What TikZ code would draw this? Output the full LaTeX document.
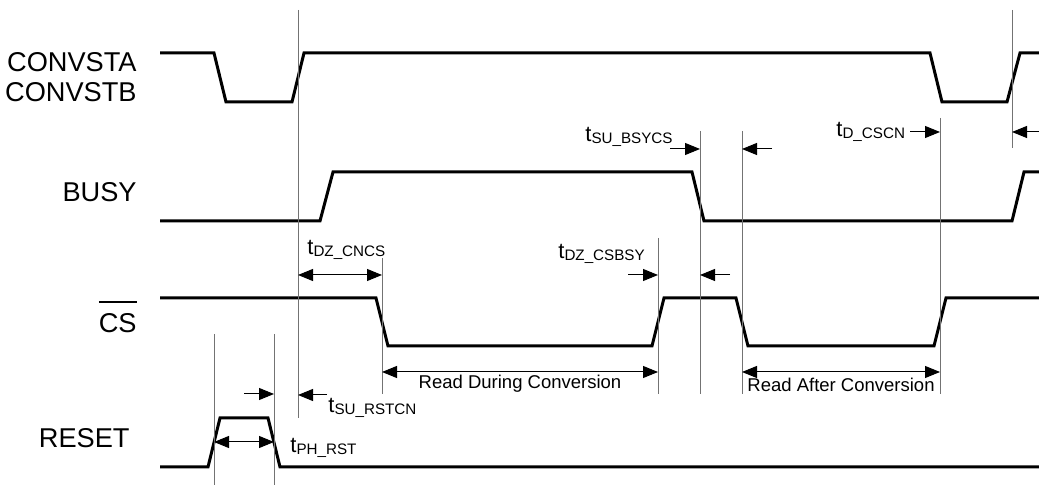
\documentclass[tikz,border=0pt]{standalone}
\usepackage{fontspec}
\setmainfont{Liberation Sans}
\usetikzlibrary{arrows.meta, positioning}

\newcommand{\tparam}[1]{t\raisebox{-1pt}{\fontsize{7.6}{8}\selectfont #1}}
\newcommand{\barred}[1]{\vbox{\hrule height 0.8pt \kern 5.5pt \hbox{#1}}}

\begin{document}
\begin{tikzpicture}[x=0.5pt, y=-0.5pt]
% Define styles
\tikzstyle{signal} = [line width=1.5pt, line join=miter]
\tikzstyle{guide} = [black!55, line width=0.5pt]
\tikzstyle{arrow} = [line width=0.5pt, -{Triangle[length=7.5pt, width=6pt]}]
\tikzstyle{span} = [line width=0.5pt, {Triangle[length=7.5pt, width=6pt]}-{Triangle[length=7.5pt, width=6pt]}]
\tikzstyle{signame} = [anchor=base east, inner sep=0pt, font=\fontsize{13.6}{16}\selectfont]
\tikzstyle{param} = [anchor=base west, inner sep=0pt, font=\fontsize{11}{13}\selectfont]
\tikzstyle{note} = [anchor=base, inner sep=0pt, font=\fontsize{9.25}{11}\selectfont]

\useasboundingbox (0,0) rectangle (1039,485);

% Signal names
\node (convsta) [signame] at (137,72) {CONVSTA};
\node (convstb) [signame] at (137,102) {CONVSTB};
\node (busy) [signame] at (137,202) {BUSY};
\node (cs) [signame] at (137,333) {\barred{CS}};
\node (reset) [signame] at (130,448) {RESET};

% Waveforms
\draw [signal] (160,53) -- (214,53) -- (226,102) -- (292,102) -- (304,53) -- (930,53)
  -- (942,102) -- (1007,102) -- (1020,53) -- (1039,53);
\draw [signal] (160,221) -- (320,221) -- (333,172) -- (692,172) -- (704,221) -- (1012,221)
  -- (1024,172) -- (1039,172);
\draw [signal] (160,298) -- (376,298) -- (388,346) -- (652,346) -- (664,298) -- (736,298)
  -- (748,346) -- (934,346) -- (946,298) -- (1039,298);
\draw [signal] (160,467) -- (208,467) -- (220,418) -- (268,418) -- (280,467) -- (1039,467);

% Timing guides
\draw [guide] (298,10) -- (298,418);
\draw [guide] (214,334) -- (214,485);
\draw [guide] (274,334) -- (274,485);
\draw [guide] (382,258) -- (382,394);
\draw [guide] (658,238) -- (658,394);
\draw [guide] (700,131) -- (700,394);
\draw [guide] (742,131) -- (742,394);
\draw [guide] (940,118) -- (940,394);
\draw [guide] (1012,10) -- (1012,148);

% Timing parameters
\node (tsubsycs) [param] at (585,142) {\tparam{SU\_BSYCS}};
\draw [arrow] (670,149) -- (700,149);
\draw [arrow] (772,149) -- (742,149);

\node (tdcscn) [param] at (836,137) {\tparam{D\_CSCN}};
\draw [arrow] (910,132) -- (940,132);
\draw [arrow] (1039,132) -- (1012,132);

\node (tdzcncs) [param] at (307,255) {\tparam{DZ\_CNCS}};
\draw [span] (298,275) -- (382,275);

\node (tdzcsbsy) [param] at (558,259) {\tparam{DZ\_CSBSY}};
\draw [arrow] (628,275) -- (658,275);
\draw [arrow] (730,275) -- (700,275);

\node (tsurstcn) [param] at (328,413) {\tparam{SU\_RSTCN}};
\draw [arrow] (244,394) -- (274,394);
\draw [arrow] (327,395) -- (298,395);

\node (tphrst) [param] at (290,453) {\tparam{PH\_RST}};
\draw [span] (214,442) -- (274,442);

% Read windows
\draw [span] (382,372) -- (658,372);
\node (readduring) [note] at (520,389) {Read During Conversion};
\draw [span] (742,372) -- (940,372);
\node (readafter) [note] at (841,392) {Read After Conversion};

\end{tikzpicture}
\end{document}
